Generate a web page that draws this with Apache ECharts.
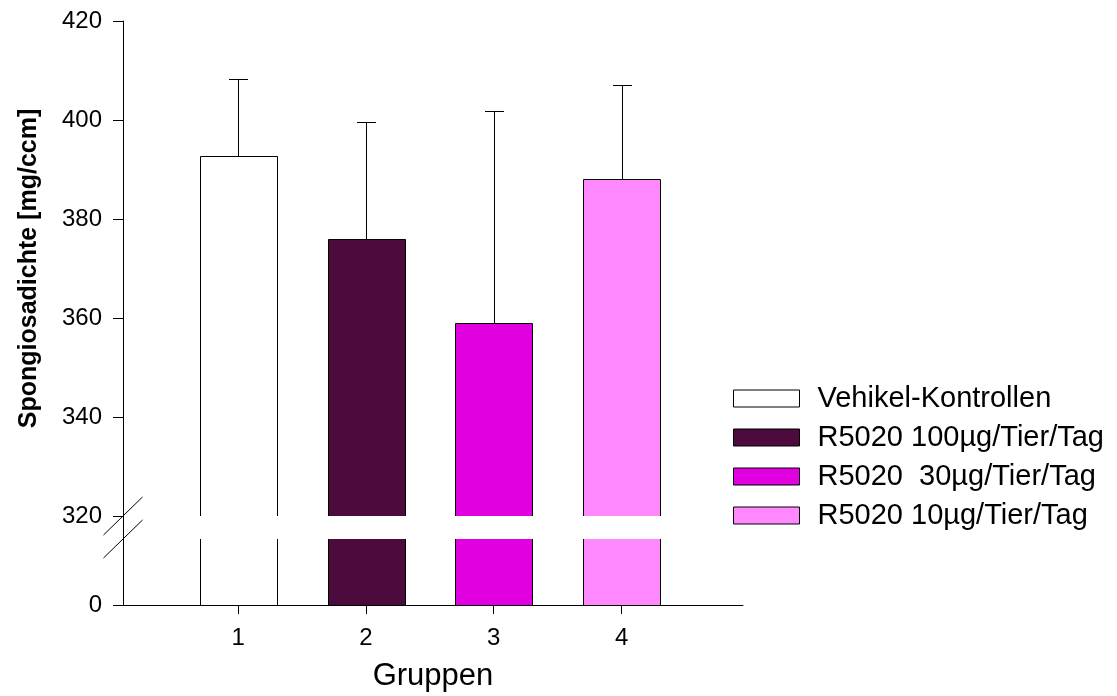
<!DOCTYPE html>
<html>
<head>
<meta charset="utf-8">
<script src="https://cdn.jsdelivr.net/npm/echarts@6/dist/echarts.min.js"></script>
<style>
html,body{margin:0;padding:0;background:#fff;}
#chart{width:1117px;height:696px;}
</style>
</head>
<body>
<div id="chart"></div>
<script>
// ---- data ----
const groupX = [1, 2, 3, 4];
const groupLabels = ['1', '2', '3', '4'];
const seriesNames = ['Vehikel-Kontrollen', 'R5020 100µg/Tier/Tag', 'R5020  30µg/Tier/Tag', 'R5020 10µg/Tier/Tag'];
const means = [392.8, 375.9, 359.0, 388.1];
const errors = [15.5, 23.7, 42.8, 18.9];
const upperTicks = [320, 340, 360, 380, 400, 420];
const lowerTicks = [0];

// ---- style ----
const colors = ['#ffffff', '#4d0a3d', '#e000e0', '#ff88ff'];
const FONT = "'Liberation Sans', Arial, sans-serif";
const X_MIN = 0.1, X_MAX = 4.95;
const BAR_W = 0.6;   // in x units
const CAP_W = 19;    // px

function makeRender(withError) {
  return function (params, api) {
    const x = api.value(0), y = api.value(1);
    const top = api.coord([x, y]);
    const base = api.coord([x, 0]);
    const w = api.size([BAR_W, 0])[0];
    const children = [{
      type: 'rect',
      shape: { x: Math.round(top[0] - w / 2) + 0.5, y: Math.round(top[1]) + 0.5, width: Math.round(w), height: base[1] - top[1] + 50 },
      style: { fill: api.visual('color'), stroke: '#000', lineWidth: 1 }
    }];
    if (withError) {
      const e = api.value(2);
      const et = api.coord([x, y + e]);
      const cx = Math.round(top[0]) + 0.5;
      children.push({
        type: 'line',
        shape: { x1: cx, y1: Math.round(top[1]), x2: cx, y2: Math.round(et[1]) + 0.5 },
        style: { stroke: '#000', lineWidth: 1 }
      });
      children.push({
        type: 'line',
        shape: { x1: cx - CAP_W / 2, y1: Math.round(et[1]) + 0.5, x2: cx + CAP_W / 2, y2: Math.round(et[1]) + 0.5 },
        style: { stroke: '#000', lineWidth: 1 }
      });
    }
    return { type: 'group', children: children };
  };
}

const series = [];
seriesNames.forEach(function (name, i) {
  series.push({
    type: 'custom', name: name, xAxisIndex: 0, yAxisIndex: 0, clip: true,
    itemStyle: { color: colors[i], borderColor: '#000', borderWidth: 1 },
    renderItem: makeRender(true),
    encode: { x: 0, y: 1 },
    data: [[groupX[i], means[i], errors[i]]],
    silent: true
  });
  series.push({
    type: 'custom', name: name, xAxisIndex: 1, yAxisIndex: 1, clip: true,
    itemStyle: { color: colors[i], borderColor: '#000', borderWidth: 1 },
    renderItem: makeRender(false),
    encode: { x: 0, y: 1 },
    data: [[groupX[i], means[i]]],
    silent: true
  });
});

const axisLineStyle = { show: true, lineStyle: { color: '#000', width: 1 } };

const chart = echarts.init(document.getElementById('chart'), null, { renderer: 'canvas' });
const option = {
  animation: false,
  backgroundColor: '#fff',
  textStyle: { fontFamily: FONT },
  grid: [
    { left: 123, top: 21, width: 620, height: 495 },
    { left: 123, top: 539, width: 620, height: 66 }
  ],
  xAxis: [
    { type: 'value', gridIndex: 0, min: X_MIN, max: X_MAX, show: false },
    {
      type: 'value', gridIndex: 1, min: X_MIN, max: X_MAX,
      axisLine: axisLineStyle,
      axisTick: { show: true, length: 9, customValues: groupX, lineStyle: { color: '#000' } },
      axisLabel: {
        customValues: groupX, margin: 21, color: '#000', fontSize: 24, fontFamily: FONT,
        formatter: function (v) { return groupLabels[groupX.indexOf(v)] || ''; }
      },
      splitLine: { show: false },
      name: 'Gruppen', nameLocation: 'middle', nameGap: 56,
      nameTextStyle: { color: '#000', fontSize: 31, fontFamily: FONT }
    }
  ],
  yAxis: [
    {
      type: 'value', gridIndex: 0, min: 320, max: 420, interval: 20,
      axisLine: axisLineStyle,
      axisTick: { show: true, length: 10, customValues: upperTicks, lineStyle: { color: '#000' } },
      axisLabel: { customValues: upperTicks, margin: 21, color: '#000', fontSize: 24, fontFamily: FONT },
      splitLine: { show: false },
      name: 'Spongiosadichte [mg/ccm]', nameLocation: 'middle', nameGap: 81,
      nameTextStyle: { color: '#000', fontSize: 25, fontWeight: 'bold', fontFamily: FONT }
    },
    {
      type: 'value', gridIndex: 1, min: 0, max: 100,
      axisLine: axisLineStyle,
      axisTick: { show: true, length: 10, customValues: lowerTicks, lineStyle: { color: '#000' } },
      axisLabel: { customValues: lowerTicks, margin: 21, color: '#000', fontSize: 24, fontFamily: FONT },
      splitLine: { show: false }
    }
  ],
  legend: {
    orient: 'vertical', left: 733, top: 384, padding: 0,
    itemWidth: 66, itemHeight: 17, itemGap: 10, icon: 'rect',
    selectedMode: false,
    textStyle: { color: '#000', fontSize: 29, lineHeight: 28, fontFamily: FONT, padding: [0, 0, 0, 13] },
    data: seriesNames.map(function (n, i) {
      return { name: n, itemStyle: { color: colors[i], borderColor: '#000', borderWidth: 1 } };
    })
  },
  series: series
};
chart.setOption(option);

// decoration: axis gap line and break marks
const pTop = chart.convertToPixel({ gridIndex: 0 }, [X_MIN, 320]);
const pBot = chart.convertToPixel({ gridIndex: 1 }, [X_MIN, 100]);
const ax = Math.round(pTop[0]) + 0.5;
chart.setOption({
  graphic: [
    { type: 'line', shape: { x1: ax, y1: pTop[1], x2: ax, y2: pBot[1] }, style: { stroke: '#000', lineWidth: 1 }, silent: true },
    { type: 'line', shape: { x1: ax - 20, y1: pTop[1] + 19, x2: ax + 19, y2: pTop[1] - 19 }, style: { stroke: '#000', lineWidth: 1 }, silent: true },
    { type: 'line', shape: { x1: ax - 20, y1: pBot[1] + 19, x2: ax + 19, y2: pBot[1] - 19 }, style: { stroke: '#000', lineWidth: 1 }, silent: true }
  ]
});
</script>
</body>
</html>
